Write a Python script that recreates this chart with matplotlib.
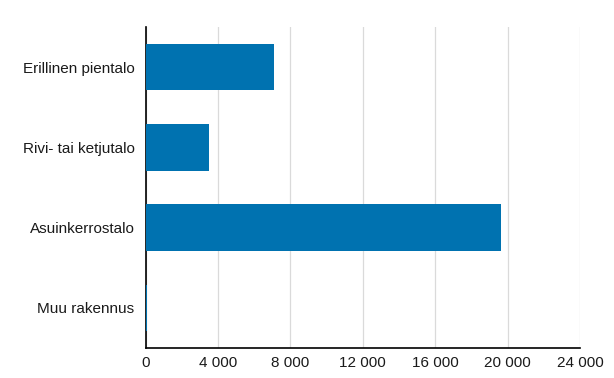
import matplotlib
matplotlib.use("Agg")
import matplotlib.pyplot as plt
from matplotlib.ticker import FuncFormatter

categories = ["Erillinen pientalo", "Rivi- tai ketjutalo", "Asuinkerrostalo", "Muu rakennus"]
values = [7100, 3520, 19600, 90]
xticks = [0, 4000, 8000, 12000, 16000, 20000, 24000]

plt.rcParams['font.family'] = ['Liberation Sans', 'DejaVu Sans']

fig = plt.figure(figsize=(6.14, 3.78), dpi=100)
ax = fig.add_axes([0.237, 0.0794, 0.708, 0.849])

ypos = list(range(len(categories)))
ax.barh(ypos, values, height=0.58, color='#0072b0', zorder=3)
ax.set_yticks(ypos)
ax.set_yticklabels(categories, fontsize=11, color='#1a1a1a')
ax.set_ylim(len(categories) - 0.5, -0.5)
ax.set_xlim(0, 24000)
ax.set_xticks(xticks)
ax.xaxis.set_major_formatter(FuncFormatter(lambda v, p: f"{int(v):,}".replace(",", " ")))
ax.tick_params(axis='x', labelsize=11, length=0, pad=6, colors='#1a1a1a')
ax.tick_params(axis='y', length=0, pad=8)
ax.grid(axis='x', color='#dadada', linewidth=0.9, zorder=0)
for s in ['top', 'right']:
    ax.spines[s].set_visible(False)
ax.spines['left'].set_color('black')
ax.spines['bottom'].set_color('black')
ax.spines['left'].set_linewidth(1.2)
ax.spines['bottom'].set_linewidth(1.2)

fig.savefig("out.png", dpi=100)
